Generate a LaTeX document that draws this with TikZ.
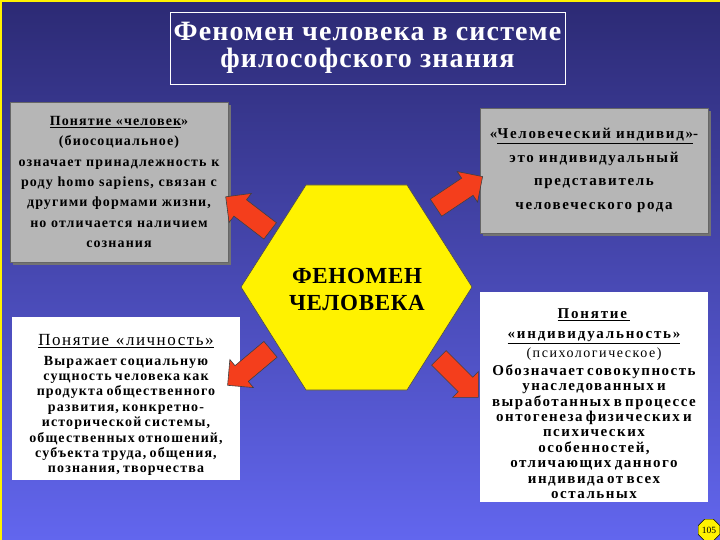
\documentclass[tikz,border=0pt]{standalone}
\usepackage{fontspec}
\setmainfont{Liberation Serif}
\usetikzlibrary{shapes.geometric, shapes.arrows, positioning}

\definecolor{bgtop}{RGB}{44,42,116}
\definecolor{bgmid}{RGB}{66,68,184}
\definecolor{bgbot}{RGB}{98,102,238}
\definecolor{boxgray}{RGB}{182,182,182}
\definecolor{arrowred}{RGB}{244,62,28}

\newcommand{\wide}[1]{\addfontfeatures{LetterSpace=#1}}

\tikzstyle{graybox} = [rectangle, fill=boxgray, draw=black!60, line width=0.6pt, inner sep=0pt, align=center]
\tikzstyle{whitebox} = [rectangle, fill=white, inner sep=0pt]
\tikzstyle{boxtext} = [inner sep=0pt, text width=228pt, align=center]
\tikzstyle{blockarrow} = [single arrow, fill=arrowred, draw=black!75, line width=0.6pt, minimum height=56pt, inner xsep=0pt, inner ysep=10pt, single arrow head extend=8pt]

\begin{document}
\begin{tikzpicture}[x=1pt, y=-1pt]
    \useasboundingbox (0,0) rectangle (720,540);
    \shade[top color=bgtop, middle color=bgmid, bottom color=bgbot] (0,0) rectangle (720,540);
    \fill[yellow] (0,0) rectangle (2,540);
    \fill[yellow] (0,0) rectangle (720,2);

    \node[rectangle, draw=white, line width=0.8pt, minimum width=395pt, minimum height=72pt, align=center, text=white,
          font=\bfseries\fontsize{28}{27}\selectfont\wide{4}] (title) at (367.5,48)
          {Феномен человека в системе\\философского знания};

    % gray boxes
    \fill[black!55] (13,105) rectangle (231,265);
    \node[graybox, text width=218pt, minimum height=160pt, font=\bfseries\fontsize{14}{20.3}\selectfont\wide{8}] (human) at (119,182)
          {\underline{Понятие «человек}»\\(биосоциальное)\\означает принадлежность к\\роду homo sapiens, связан с\\другими формами жизни,\\но отличается наличием\\сознания};

    \fill[black!55] (483,111) rectangle (711,236);
    \node[graybox, text width=228pt, minimum height=125pt, font=\bfseries\fontsize{15}{23.5}\selectfont\wide{11}] (indiv) at (594,170.5)
          {«\underline{Человеческий индивид»}-\\это индивидуальный\\представитель\\человеческого рода};

    % white boxes
    \node[whitebox, minimum width=228pt, minimum height=163pt] (person) at (126,398.5) {};
    \node[boxtext, below=17.5pt of person.north] (personText)
          {{\fontsize{17}{20}\selectfont\wide{9}\underline{Понятие \ «личность»}\par}\vspace{4pt}
           {\bfseries\fontsize{14}{15.4}\selectfont\wide{8}Выражает социальную\\сущность человека как\\продукта общественного\\развития, конкретно-\\исторической системы,\\общественных отношений,\\субъекта труда, общения,\\познания, творчества\par}};

    \node[whitebox, minimum width=228pt, minimum height=210pt] (individ) at (594,397) {};
    \node[boxtext, below=17pt of individ.north] (individText)
          {{\bfseries\fontsize{15}{20}\selectfont\wide{12}\underline{Понятие\ }\\\underline{«индивидуальность»}\par}
           {\fontsize{14}{19}\selectfont\wide{11}(психологическое)\par}\vspace{2pt}
           {\bfseries\fontsize{15}{15.4}\selectfont\wide{10}Обозначает совокупность\\унаследованных и\\выработанных в процессе\\онтогенеза физических и\\психических\\особенностей,\\отличающих данного\\индивида от всех\\остальных\par}};

    % hexagon
    \draw[fill=yellow, draw=black!70, line width=0.6pt] (241,287) -- (306,185) -- (407,185) -- (472,287) -- (407,390) -- (306,390) -- cycle;
    \node[align=center, font=\bfseries\fontsize{23}{27}\selectfont\wide{3}] (phen) at (357,289) {ФЕНОМЕН\\ЧЕЛОВЕКА};

    % arrows
    \node[blockarrow, rotate=142.5] (arrHuman) at (252,217) {};
    \node[blockarrow, rotate=33.7] (arrIndiv) at (455,195) {};
    \node[blockarrow, rotate=220] (arrPerson) at (253,364) {};
    \node[blockarrow, rotate=-45] (arrIndivid) at (455,374) {};

    \node[regular polygon, regular polygon sides=8, fill=yellow, draw=black, inner sep=0.5pt, minimum size=21pt,
          font=\fontsize{9.5}{9.5}\selectfont] (page) at (709,530) {105};
\end{tikzpicture}
\end{document}
